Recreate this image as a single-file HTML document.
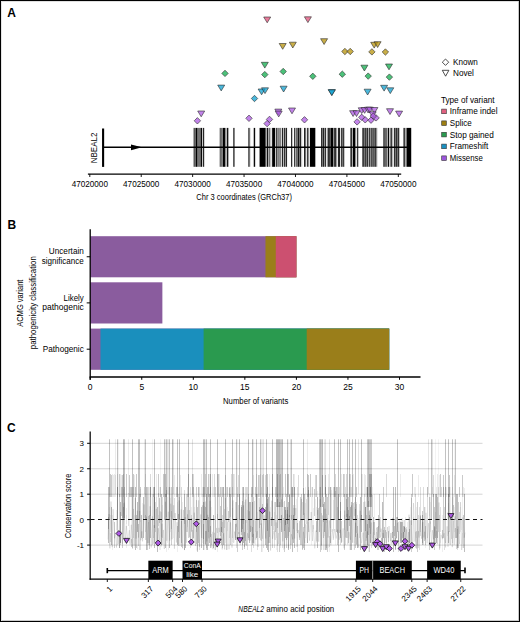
<!DOCTYPE html><html><head><meta charset="utf-8"><style>html,body{margin:0;padding:0;background:#fff;}svg{display:block;}text{font-family:"Liberation Sans", sans-serif;}</style></head><body>
<svg width="520" height="622" viewBox="0 0 520 622">
<rect x="0" y="0" width="520" height="622" fill="#fff"/>
<text x="7.3" y="17.1" font-size="12" text-anchor="start" font-weight="bold" fill="#000">A</text>
<g stroke="#000">
<line x1="103.1" y1="128.5" x2="103.1" y2="166.9" stroke-width="2.1"/>
<line x1="103" y1="147.3" x2="407" y2="147.3" stroke-width="1.6"/>
</g>
<polygon points="131,144.4 142,147.3 131,150.2" fill="#000"/>
<rect x="193" y="127.9" width="1" height="38.9" fill="#000" fill-opacity="0.32"/>
<rect x="194" y="127.9" width="1" height="38.9" fill="#000" fill-opacity="0.65"/>
<rect x="195" y="127.9" width="1" height="38.9" fill="#000" fill-opacity="0.59"/>
<rect x="196" y="127.9" width="1" height="38.9" fill="#000" fill-opacity="1.00"/>
<rect x="197" y="127.9" width="1" height="38.9" fill="#000" fill-opacity="0.59"/>
<rect x="198" y="127.9" width="1" height="38.9" fill="#000" fill-opacity="0.54"/>
<rect x="199" y="127.9" width="1" height="38.9" fill="#000" fill-opacity="0.54"/>
<rect x="200" y="127.9" width="1" height="38.9" fill="#000" fill-opacity="0.59"/>
<rect x="201" y="127.9" width="1" height="38.9" fill="#000" fill-opacity="0.97"/>
<rect x="202" y="127.9" width="1" height="38.9" fill="#000" fill-opacity="0.22"/>
<rect x="203" y="127.9" width="1" height="38.9" fill="#000" fill-opacity="0.86"/>
<rect x="204" y="127.9" width="1" height="38.9" fill="#000" fill-opacity="0.16"/>
<rect x="219" y="127.9" width="1" height="38.9" fill="#000" fill-opacity="0.22"/>
<rect x="220" y="127.9" width="1" height="38.9" fill="#000" fill-opacity="0.59"/>
<rect x="221" y="127.9" width="1" height="38.9" fill="#000" fill-opacity="0.54"/>
<rect x="222" y="127.9" width="1" height="38.9" fill="#000" fill-opacity="0.49"/>
<rect x="223" y="127.9" width="1" height="38.9" fill="#000" fill-opacity="1.00"/>
<rect x="224" y="127.9" width="1" height="38.9" fill="#000" fill-opacity="0.97"/>
<rect x="225" y="127.9" width="1" height="38.9" fill="#000" fill-opacity="0.43"/>
<rect x="226" y="127.9" width="1" height="38.9" fill="#000" fill-opacity="0.27"/>
<rect x="227" y="127.9" width="1" height="38.9" fill="#000" fill-opacity="0.92"/>
<rect x="228" y="127.9" width="1" height="38.9" fill="#000" fill-opacity="0.32"/>
<rect x="233" y="127.9" width="1" height="38.9" fill="#000" fill-opacity="0.65"/>
<rect x="234" y="127.9" width="1" height="38.9" fill="#000" fill-opacity="0.49"/>
<rect x="248" y="127.9" width="1" height="38.9" fill="#000" fill-opacity="0.59"/>
<rect x="249" y="127.9" width="1" height="38.9" fill="#000" fill-opacity="0.54"/>
<rect x="250" y="127.9" width="1" height="38.9" fill="#000" fill-opacity="0.11"/>
<rect x="253" y="127.9" width="1" height="38.9" fill="#000" fill-opacity="0.27"/>
<rect x="254" y="127.9" width="1" height="38.9" fill="#000" fill-opacity="0.97"/>
<rect x="255" y="127.9" width="1" height="38.9" fill="#000" fill-opacity="0.16"/>
<rect x="259" y="127.9" width="1" height="38.9" fill="#000" fill-opacity="0.43"/>
<rect x="260" y="127.9" width="1" height="38.9" fill="#000" fill-opacity="1.00"/>
<rect x="261" y="127.9" width="1" height="38.9" fill="#000" fill-opacity="1.00"/>
<rect x="262" y="127.9" width="1" height="38.9" fill="#000" fill-opacity="1.00"/>
<rect x="263" y="127.9" width="1" height="38.9" fill="#000" fill-opacity="1.00"/>
<rect x="264" y="127.9" width="1" height="38.9" fill="#000" fill-opacity="1.00"/>
<rect x="265" y="127.9" width="1" height="38.9" fill="#000" fill-opacity="0.65"/>
<rect x="266" y="127.9" width="1" height="38.9" fill="#000" fill-opacity="0.32"/>
<rect x="267" y="127.9" width="1" height="38.9" fill="#000" fill-opacity="0.92"/>
<rect x="268" y="127.9" width="1" height="38.9" fill="#000" fill-opacity="0.32"/>
<rect x="269" y="127.9" width="1" height="38.9" fill="#000" fill-opacity="0.54"/>
<rect x="270" y="127.9" width="1" height="38.9" fill="#000" fill-opacity="0.22"/>
<rect x="271" y="127.9" width="1" height="38.9" fill="#000" fill-opacity="0.11"/>
<rect x="272" y="127.9" width="1" height="38.9" fill="#000" fill-opacity="0.86"/>
<rect x="273" y="127.9" width="1" height="38.9" fill="#000" fill-opacity="1.00"/>
<rect x="274" y="127.9" width="1" height="38.9" fill="#000" fill-opacity="1.00"/>
<rect x="275" y="127.9" width="1" height="38.9" fill="#000" fill-opacity="0.22"/>
<rect x="276" y="127.9" width="1" height="38.9" fill="#000" fill-opacity="0.76"/>
<rect x="277" y="127.9" width="1" height="38.9" fill="#000" fill-opacity="0.43"/>
<rect x="278" y="127.9" width="1" height="38.9" fill="#000" fill-opacity="0.49"/>
<rect x="279" y="127.9" width="1" height="38.9" fill="#000" fill-opacity="0.43"/>
<rect x="280" y="127.9" width="1" height="38.9" fill="#000" fill-opacity="0.49"/>
<rect x="281" y="127.9" width="1" height="38.9" fill="#000" fill-opacity="0.16"/>
<rect x="282" y="127.9" width="1" height="38.9" fill="#000" fill-opacity="0.86"/>
<rect x="283" y="127.9" width="1" height="38.9" fill="#000" fill-opacity="0.27"/>
<rect x="284" y="127.9" width="1" height="38.9" fill="#000" fill-opacity="0.81"/>
<rect x="285" y="127.9" width="1" height="38.9" fill="#000" fill-opacity="0.43"/>
<rect x="286" y="127.9" width="1" height="38.9" fill="#000" fill-opacity="0.86"/>
<rect x="287" y="127.9" width="1" height="38.9" fill="#000" fill-opacity="0.05"/>
<rect x="291" y="127.9" width="1" height="38.9" fill="#000" fill-opacity="0.81"/>
<rect x="292" y="127.9" width="1" height="38.9" fill="#000" fill-opacity="0.22"/>
<rect x="294" y="127.9" width="1" height="38.9" fill="#000" fill-opacity="0.76"/>
<rect x="295" y="127.9" width="1" height="38.9" fill="#000" fill-opacity="0.32"/>
<rect x="296" y="127.9" width="1" height="38.9" fill="#000" fill-opacity="0.59"/>
<rect x="297" y="127.9" width="1" height="38.9" fill="#000" fill-opacity="0.54"/>
<rect x="298" y="127.9" width="1" height="38.9" fill="#000" fill-opacity="0.92"/>
<rect x="299" y="127.9" width="1" height="38.9" fill="#000" fill-opacity="0.54"/>
<rect x="300" y="127.9" width="1" height="38.9" fill="#000" fill-opacity="0.86"/>
<rect x="301" y="127.9" width="1" height="38.9" fill="#000" fill-opacity="0.22"/>
<rect x="302" y="127.9" width="1" height="38.9" fill="#000" fill-opacity="0.05"/>
<rect x="304" y="127.9" width="1" height="38.9" fill="#000" fill-opacity="0.86"/>
<rect x="305" y="127.9" width="1" height="38.9" fill="#000" fill-opacity="0.54"/>
<rect x="306" y="127.9" width="1" height="38.9" fill="#000" fill-opacity="0.11"/>
<rect x="307" y="127.9" width="1" height="38.9" fill="#000" fill-opacity="0.76"/>
<rect x="308" y="127.9" width="1" height="38.9" fill="#000" fill-opacity="0.43"/>
<rect x="309" y="127.9" width="1" height="38.9" fill="#000" fill-opacity="0.11"/>
<rect x="310" y="127.9" width="1" height="38.9" fill="#000" fill-opacity="1.00"/>
<rect x="311" y="127.9" width="1" height="38.9" fill="#000" fill-opacity="1.00"/>
<rect x="312" y="127.9" width="1" height="38.9" fill="#000" fill-opacity="1.00"/>
<rect x="313" y="127.9" width="1" height="38.9" fill="#000" fill-opacity="1.00"/>
<rect x="314" y="127.9" width="1" height="38.9" fill="#000" fill-opacity="1.00"/>
<rect x="315" y="127.9" width="1" height="38.9" fill="#000" fill-opacity="0.32"/>
<rect x="321" y="127.9" width="1" height="38.9" fill="#000" fill-opacity="0.81"/>
<rect x="322" y="127.9" width="1" height="38.9" fill="#000" fill-opacity="0.54"/>
<rect x="323" y="127.9" width="1" height="38.9" fill="#000" fill-opacity="0.86"/>
<rect x="324" y="127.9" width="1" height="38.9" fill="#000" fill-opacity="0.43"/>
<rect x="325" y="127.9" width="1" height="38.9" fill="#000" fill-opacity="0.81"/>
<rect x="326" y="127.9" width="1" height="38.9" fill="#000" fill-opacity="0.11"/>
<rect x="327" y="127.9" width="1" height="38.9" fill="#000" fill-opacity="0.38"/>
<rect x="328" y="127.9" width="1" height="38.9" fill="#000" fill-opacity="0.81"/>
<rect x="329" y="127.9" width="1" height="38.9" fill="#000" fill-opacity="0.76"/>
<rect x="330" y="127.9" width="1" height="38.9" fill="#000" fill-opacity="0.65"/>
<rect x="331" y="127.9" width="1" height="38.9" fill="#000" fill-opacity="1.00"/>
<rect x="332" y="127.9" width="1" height="38.9" fill="#000" fill-opacity="1.00"/>
<rect x="333" y="127.9" width="1" height="38.9" fill="#000" fill-opacity="0.43"/>
<rect x="334" y="127.9" width="1" height="38.9" fill="#000" fill-opacity="0.76"/>
<rect x="335" y="127.9" width="1" height="38.9" fill="#000" fill-opacity="0.81"/>
<rect x="336" y="127.9" width="1" height="38.9" fill="#000" fill-opacity="0.38"/>
<rect x="337" y="127.9" width="1" height="38.9" fill="#000" fill-opacity="0.11"/>
<rect x="338" y="127.9" width="1" height="38.9" fill="#000" fill-opacity="0.86"/>
<rect x="339" y="127.9" width="1" height="38.9" fill="#000" fill-opacity="0.86"/>
<rect x="340" y="127.9" width="1" height="38.9" fill="#000" fill-opacity="0.11"/>
<rect x="341" y="127.9" width="1" height="38.9" fill="#000" fill-opacity="0.76"/>
<rect x="342" y="127.9" width="1" height="38.9" fill="#000" fill-opacity="0.54"/>
<rect x="343" y="127.9" width="1" height="38.9" fill="#000" fill-opacity="0.76"/>
<rect x="344" y="127.9" width="1" height="38.9" fill="#000" fill-opacity="0.22"/>
<rect x="350" y="127.9" width="1" height="38.9" fill="#000" fill-opacity="0.54"/>
<rect x="351" y="127.9" width="1" height="38.9" fill="#000" fill-opacity="0.81"/>
<rect x="352" y="127.9" width="1" height="38.9" fill="#000" fill-opacity="0.32"/>
<rect x="353" y="127.9" width="1" height="38.9" fill="#000" fill-opacity="1.00"/>
<rect x="354" y="127.9" width="1" height="38.9" fill="#000" fill-opacity="1.00"/>
<rect x="355" y="127.9" width="1" height="38.9" fill="#000" fill-opacity="0.43"/>
<rect x="356" y="127.9" width="1" height="38.9" fill="#000" fill-opacity="0.11"/>
<rect x="357" y="127.9" width="1" height="38.9" fill="#000" fill-opacity="0.76"/>
<rect x="358" y="127.9" width="1" height="38.9" fill="#000" fill-opacity="0.22"/>
<rect x="362" y="127.9" width="1" height="38.9" fill="#000" fill-opacity="0.59"/>
<rect x="363" y="127.9" width="1" height="38.9" fill="#000" fill-opacity="0.76"/>
<rect x="364" y="127.9" width="1" height="38.9" fill="#000" fill-opacity="0.54"/>
<rect x="365" y="127.9" width="1" height="38.9" fill="#000" fill-opacity="0.76"/>
<rect x="366" y="127.9" width="1" height="38.9" fill="#000" fill-opacity="0.54"/>
<rect x="367" y="127.9" width="1" height="38.9" fill="#000" fill-opacity="0.81"/>
<rect x="368" y="127.9" width="1" height="38.9" fill="#000" fill-opacity="0.32"/>
<rect x="369" y="127.9" width="1" height="38.9" fill="#000" fill-opacity="0.76"/>
<rect x="370" y="127.9" width="1" height="38.9" fill="#000" fill-opacity="0.43"/>
<rect x="371" y="127.9" width="1" height="38.9" fill="#000" fill-opacity="0.70"/>
<rect x="372" y="127.9" width="1" height="38.9" fill="#000" fill-opacity="0.59"/>
<rect x="373" y="127.9" width="1" height="38.9" fill="#000" fill-opacity="0.65"/>
<rect x="374" y="127.9" width="1" height="38.9" fill="#000" fill-opacity="0.59"/>
<rect x="375" y="127.9" width="1" height="38.9" fill="#000" fill-opacity="0.76"/>
<rect x="376" y="127.9" width="1" height="38.9" fill="#000" fill-opacity="0.43"/>
<rect x="377" y="127.9" width="1" height="38.9" fill="#000" fill-opacity="0.11"/>
<rect x="383" y="127.9" width="1" height="38.9" fill="#000" fill-opacity="0.59"/>
<rect x="384" y="127.9" width="1" height="38.9" fill="#000" fill-opacity="0.65"/>
<rect x="385" y="127.9" width="1" height="38.9" fill="#000" fill-opacity="0.59"/>
<rect x="386" y="127.9" width="1" height="38.9" fill="#000" fill-opacity="0.59"/>
<rect x="387" y="127.9" width="1" height="38.9" fill="#000" fill-opacity="0.32"/>
<rect x="388" y="127.9" width="1" height="38.9" fill="#000" fill-opacity="0.97"/>
<rect x="389" y="127.9" width="1" height="38.9" fill="#000" fill-opacity="0.22"/>
<rect x="390" y="127.9" width="1" height="38.9" fill="#000" fill-opacity="0.49"/>
<rect x="391" y="127.9" width="1" height="38.9" fill="#000" fill-opacity="0.76"/>
<rect x="392" y="127.9" width="1" height="38.9" fill="#000" fill-opacity="0.27"/>
<rect x="393" y="127.9" width="1" height="38.9" fill="#000" fill-opacity="0.11"/>
<rect x="394" y="127.9" width="1" height="38.9" fill="#000" fill-opacity="0.81"/>
<rect x="395" y="127.9" width="1" height="38.9" fill="#000" fill-opacity="0.54"/>
<rect x="396" y="127.9" width="1" height="38.9" fill="#000" fill-opacity="0.81"/>
<rect x="397" y="127.9" width="1" height="38.9" fill="#000" fill-opacity="0.54"/>
<rect x="398" y="127.9" width="1" height="38.9" fill="#000" fill-opacity="0.81"/>
<rect x="399" y="127.9" width="1" height="38.9" fill="#000" fill-opacity="0.22"/>
<rect x="403" y="127.9" width="1" height="38.9" fill="#000" fill-opacity="0.49"/>
<rect x="404" y="127.9" width="1" height="38.9" fill="#000" fill-opacity="0.76"/>
<rect x="405" y="127.9" width="1" height="38.9" fill="#000" fill-opacity="0.32"/>
<rect x="406" y="127.9" width="1" height="38.9" fill="#000" fill-opacity="0.54"/>
<rect x="407" y="127.9" width="1" height="38.9" fill="#000" fill-opacity="1.00"/>
<rect x="408" y="127.9" width="1" height="38.9" fill="#000" fill-opacity="1.00"/>
<rect x="409" y="127.9" width="1" height="38.9" fill="#000" fill-opacity="1.00"/>
<rect x="410" y="127.9" width="1" height="38.9" fill="#000" fill-opacity="1.00"/>
<rect x="411" y="127.9" width="1" height="38.9" fill="#000" fill-opacity="0.22"/>
<text x="97.2" y="147.9" font-size="9.2" text-anchor="middle" fill="#000" textLength="30.6" lengthAdjust="spacingAndGlyphs" transform="rotate(-90 97.2 147.9)">NBEAL2</text>
<line x1="87.9" y1="174.1" x2="401.2" y2="174.1" stroke="#000" stroke-width="1.2"/>
<line x1="89.80" y1="174.1" x2="89.80" y2="177" stroke="#000" stroke-width="0.9"/>
<text x="89.8" y="187.4" font-size="8.6" text-anchor="middle" fill="#000" textLength="36.3" lengthAdjust="spacingAndGlyphs">47020000</text>
<line x1="141.22" y1="174.1" x2="141.22" y2="177" stroke="#000" stroke-width="0.9"/>
<text x="141.22" y="187.4" font-size="8.6" text-anchor="middle" fill="#000" textLength="36.3" lengthAdjust="spacingAndGlyphs">47025000</text>
<line x1="192.64" y1="174.1" x2="192.64" y2="177" stroke="#000" stroke-width="0.9"/>
<text x="192.64" y="187.4" font-size="8.6" text-anchor="middle" fill="#000" textLength="36.3" lengthAdjust="spacingAndGlyphs">47030000</text>
<line x1="244.06" y1="174.1" x2="244.06" y2="177" stroke="#000" stroke-width="0.9"/>
<text x="244.06" y="187.4" font-size="8.6" text-anchor="middle" fill="#000" textLength="36.3" lengthAdjust="spacingAndGlyphs">47035000</text>
<line x1="295.48" y1="174.1" x2="295.48" y2="177" stroke="#000" stroke-width="0.9"/>
<text x="295.48" y="187.4" font-size="8.6" text-anchor="middle" fill="#000" textLength="36.3" lengthAdjust="spacingAndGlyphs">47040000</text>
<line x1="346.90" y1="174.1" x2="346.90" y2="177" stroke="#000" stroke-width="0.9"/>
<text x="346.9" y="187.4" font-size="8.6" text-anchor="middle" fill="#000" textLength="36.3" lengthAdjust="spacingAndGlyphs">47045000</text>
<line x1="398.32" y1="174.1" x2="398.32" y2="177" stroke="#000" stroke-width="0.9"/>
<text x="398.32" y="187.4" font-size="8.6" text-anchor="middle" fill="#000" textLength="36.3" lengthAdjust="spacingAndGlyphs">47050000</text>
<text x="244.15" y="200.4" font-size="9" text-anchor="middle" fill="#000" textLength="95.7" lengthAdjust="spacingAndGlyphs">Chr 3 coordinates (GRCh37)</text>
<polygon points="263.70,17.00 270.70,17.00 267.20,22.80" fill="#e0507b" fill-opacity="0.75" stroke="#2a2a2a" stroke-width="0.6" stroke-linejoin="miter"/>
<polygon points="304.40,16.80 311.40,16.80 307.90,22.60" fill="#e0507b" fill-opacity="0.75" stroke="#2a2a2a" stroke-width="0.6" stroke-linejoin="miter"/>
<polygon points="279.20,43.50 286.20,43.50 282.70,49.30" fill="#b7930b" fill-opacity="0.75" stroke="#2a2a2a" stroke-width="0.6" stroke-linejoin="miter"/>
<polygon points="289.30,42.20 296.30,42.20 292.80,48.00" fill="#b7930b" fill-opacity="0.75" stroke="#2a2a2a" stroke-width="0.6" stroke-linejoin="miter"/>
<polygon points="320.60,38.70 327.60,38.70 324.10,44.50" fill="#b7930b" fill-opacity="0.75" stroke="#2a2a2a" stroke-width="0.6" stroke-linejoin="miter"/>
<polygon points="370.70,42.30 377.70,42.30 374.20,48.10" fill="#b7930b" fill-opacity="0.75" stroke="#2a2a2a" stroke-width="0.6" stroke-linejoin="miter"/>
<polygon points="374.10,41.70 381.10,41.70 377.60,47.50" fill="#b7930b" fill-opacity="0.75" stroke="#2a2a2a" stroke-width="0.6" stroke-linejoin="miter"/>
<polygon points="344.90,48.30 348.10,51.50 344.90,54.70 341.70,51.50" fill="#b7930b" fill-opacity="0.75" stroke="#2a2a2a" stroke-width="0.6"/>
<polygon points="350.20,48.30 353.40,51.50 350.20,54.70 347.00,51.50" fill="#b7930b" fill-opacity="0.75" stroke="#2a2a2a" stroke-width="0.6"/>
<polygon points="371.90,48.70 375.10,51.90 371.90,55.10 368.70,51.90" fill="#b7930b" fill-opacity="0.75" stroke="#2a2a2a" stroke-width="0.6"/>
<polygon points="385.40,48.80 388.60,52.00 385.40,55.20 382.20,52.00" fill="#b7930b" fill-opacity="0.75" stroke="#2a2a2a" stroke-width="0.6"/>
<polygon points="225.00,70.20 228.20,73.40 225.00,76.60 221.80,73.40" fill="#10ae4e" fill-opacity="0.75" stroke="#2a2a2a" stroke-width="0.6"/>
<polygon points="261.30,62.30 268.30,62.30 264.80,68.10" fill="#10ae4e" fill-opacity="0.75" stroke="#2a2a2a" stroke-width="0.6" stroke-linejoin="miter"/>
<polygon points="264.80,71.40 268.00,74.60 264.80,77.80 261.60,74.60" fill="#10ae4e" fill-opacity="0.75" stroke="#2a2a2a" stroke-width="0.6"/>
<polygon points="283.20,68.30 286.40,71.50 283.20,74.70 280.00,71.50" fill="#10ae4e" fill-opacity="0.75" stroke="#2a2a2a" stroke-width="0.6"/>
<polygon points="312.80,73.10 316.00,76.30 312.80,79.50 309.60,76.30" fill="#10ae4e" fill-opacity="0.75" stroke="#2a2a2a" stroke-width="0.6"/>
<polygon points="342.30,71.00 345.50,74.20 342.30,77.40 339.10,74.20" fill="#10ae4e" fill-opacity="0.75" stroke="#2a2a2a" stroke-width="0.6"/>
<polygon points="360.90,65.20 367.90,65.20 364.40,71.00" fill="#10ae4e" fill-opacity="0.75" stroke="#2a2a2a" stroke-width="0.6" stroke-linejoin="miter"/>
<polygon points="368.20,72.90 371.40,76.10 368.20,79.30 365.00,76.10" fill="#10ae4e" fill-opacity="0.75" stroke="#2a2a2a" stroke-width="0.6"/>
<polygon points="385.50,64.00 392.50,64.00 389.00,69.80" fill="#10ae4e" fill-opacity="0.75" stroke="#2a2a2a" stroke-width="0.6" stroke-linejoin="miter"/>
<polygon points="389.40,73.90 392.60,77.10 389.40,80.30 386.20,77.10" fill="#10ae4e" fill-opacity="0.75" stroke="#2a2a2a" stroke-width="0.6"/>
<polygon points="217.70,85.10 224.70,85.10 221.20,90.90" fill="#0fa0d0" fill-opacity="0.75" stroke="#2a2a2a" stroke-width="0.6" stroke-linejoin="miter"/>
<polygon points="254.50,95.30 257.70,98.50 254.50,101.70 251.30,98.50" fill="#0fa0d0" fill-opacity="0.75" stroke="#2a2a2a" stroke-width="0.6"/>
<polygon points="258.10,89.00 265.10,89.00 261.60,94.80" fill="#0fa0d0" fill-opacity="0.75" stroke="#2a2a2a" stroke-width="0.6" stroke-linejoin="miter"/>
<polygon points="261.50,87.80 268.50,87.80 265.00,93.60" fill="#0fa0d0" fill-opacity="0.75" stroke="#2a2a2a" stroke-width="0.6" stroke-linejoin="miter"/>
<polygon points="280.10,86.20 287.10,86.20 283.60,92.00" fill="#0fa0d0" fill-opacity="0.75" stroke="#2a2a2a" stroke-width="0.6" stroke-linejoin="miter"/>
<polygon points="328.30,89.60 335.30,89.60 331.80,95.40" fill="#0fa0d0" fill-opacity="0.75" stroke="#2a2a2a" stroke-width="0.6" stroke-linejoin="miter"/>
<polygon points="328.30,89.80 335.30,89.80 331.80,95.60" fill="#0fa0d0" fill-opacity="0.75" stroke="#2a2a2a" stroke-width="0.6" stroke-linejoin="miter"/>
<polygon points="364.10,89.20 371.10,89.20 367.60,95.00" fill="#0fa0d0" fill-opacity="0.75" stroke="#2a2a2a" stroke-width="0.6" stroke-linejoin="miter"/>
<polygon points="380.60,85.30 387.60,85.30 384.10,91.10" fill="#0fa0d0" fill-opacity="0.75" stroke="#2a2a2a" stroke-width="0.6" stroke-linejoin="miter"/>
<polygon points="386.80,87.80 393.80,87.80 390.30,93.60" fill="#0fa0d0" fill-opacity="0.75" stroke="#2a2a2a" stroke-width="0.6" stroke-linejoin="miter"/>
<polygon points="197.70,111.00 204.70,111.00 201.20,116.80" fill="#ae5ae3" fill-opacity="0.75" stroke="#2a2a2a" stroke-width="0.6" stroke-linejoin="miter"/>
<polygon points="197.40,117.60 200.60,120.80 197.40,124.00 194.20,120.80" fill="#ae5ae3" fill-opacity="0.75" stroke="#2a2a2a" stroke-width="0.6"/>
<polygon points="249.00,115.10 252.20,118.30 249.00,121.50 245.80,118.30" fill="#ae5ae3" fill-opacity="0.75" stroke="#2a2a2a" stroke-width="0.6"/>
<polygon points="274.80,109.10 281.80,109.10 278.30,114.90" fill="#ae5ae3" fill-opacity="0.75" stroke="#2a2a2a" stroke-width="0.6" stroke-linejoin="miter"/>
<polygon points="275.20,111.10 282.20,111.10 278.70,116.90" fill="#ae5ae3" fill-opacity="0.75" stroke="#2a2a2a" stroke-width="0.6" stroke-linejoin="miter"/>
<polygon points="288.50,108.00 295.50,108.00 292.00,113.80" fill="#ae5ae3" fill-opacity="0.75" stroke="#2a2a2a" stroke-width="0.6" stroke-linejoin="miter"/>
<polygon points="269.50,116.20 272.70,119.40 269.50,122.60 266.30,119.40" fill="#ae5ae3" fill-opacity="0.75" stroke="#2a2a2a" stroke-width="0.6"/>
<polygon points="267.10,120.40 270.30,123.60 267.10,126.80 263.90,123.60" fill="#ae5ae3" fill-opacity="0.75" stroke="#2a2a2a" stroke-width="0.6"/>
<polygon points="304.50,116.60 307.70,119.80 304.50,123.00 301.30,119.80" fill="#ae5ae3" fill-opacity="0.75" stroke="#2a2a2a" stroke-width="0.6"/>
<polygon points="349.60,110.70 356.60,110.70 353.10,116.50" fill="#ae5ae3" fill-opacity="0.75" stroke="#2a2a2a" stroke-width="0.6" stroke-linejoin="miter"/>
<polygon points="353.00,110.70 360.00,110.70 356.50,116.50" fill="#ae5ae3" fill-opacity="0.75" stroke="#2a2a2a" stroke-width="0.6" stroke-linejoin="miter"/>
<polygon points="358.20,107.80 365.20,107.80 361.70,113.60" fill="#ae5ae3" fill-opacity="0.75" stroke="#2a2a2a" stroke-width="0.6" stroke-linejoin="miter"/>
<polygon points="361.10,107.50 368.10,107.50 364.60,113.30" fill="#ae5ae3" fill-opacity="0.75" stroke="#2a2a2a" stroke-width="0.6" stroke-linejoin="miter"/>
<polygon points="364.60,107.20 371.60,107.20 368.10,113.00" fill="#ae5ae3" fill-opacity="0.75" stroke="#2a2a2a" stroke-width="0.6" stroke-linejoin="miter"/>
<polygon points="366.30,107.20 373.30,107.20 369.80,113.00" fill="#ae5ae3" fill-opacity="0.75" stroke="#2a2a2a" stroke-width="0.6" stroke-linejoin="miter"/>
<polygon points="370.90,107.50 377.90,107.50 374.40,113.30" fill="#ae5ae3" fill-opacity="0.75" stroke="#2a2a2a" stroke-width="0.6" stroke-linejoin="miter"/>
<polygon points="369.20,111.80 376.20,111.80 372.70,117.60" fill="#ae5ae3" fill-opacity="0.75" stroke="#2a2a2a" stroke-width="0.6" stroke-linejoin="miter"/>
<polygon points="386.50,108.70 393.50,108.70 390.00,114.50" fill="#ae5ae3" fill-opacity="0.75" stroke="#2a2a2a" stroke-width="0.6" stroke-linejoin="miter"/>
<polygon points="395.60,111.10 402.60,111.10 399.10,116.90" fill="#ae5ae3" fill-opacity="0.75" stroke="#2a2a2a" stroke-width="0.6" stroke-linejoin="miter"/>
<polygon points="357.10,118.70 360.30,121.90 357.10,125.10 353.90,121.90" fill="#ae5ae3" fill-opacity="0.75" stroke="#2a2a2a" stroke-width="0.6"/>
<polygon points="361.70,114.10 364.90,117.30 361.70,120.50 358.50,117.30" fill="#ae5ae3" fill-opacity="0.75" stroke="#2a2a2a" stroke-width="0.6"/>
<polygon points="365.20,116.60 368.40,119.80 365.20,123.00 362.00,119.80" fill="#ae5ae3" fill-opacity="0.75" stroke="#2a2a2a" stroke-width="0.6"/>
<polygon points="371.00,117.00 374.20,120.20 371.00,123.40 367.80,120.20" fill="#ae5ae3" fill-opacity="0.75" stroke="#2a2a2a" stroke-width="0.6"/>
<polygon points="376.10,114.70 379.30,117.90 376.10,121.10 372.90,117.90" fill="#ae5ae3" fill-opacity="0.75" stroke="#2a2a2a" stroke-width="0.6"/>
<polygon points="373.30,112.90 376.50,116.10 373.30,119.30 370.10,116.10" fill="#ae5ae3" fill-opacity="0.75" stroke="#2a2a2a" stroke-width="0.6"/>
<polygon points="445.5,59 448.7,62.2 445.5,65.4 442.3,62.2" fill="none" stroke="#222" stroke-width="0.8"/>
<polygon points="442.3,70.3 448.9,70.3 445.6,76.2" fill="none" stroke="#222" stroke-width="0.8"/>
<text x="453" y="64.8" font-size="8.2" text-anchor="start" fill="#000" textLength="24.8" lengthAdjust="spacingAndGlyphs">Known</text>
<text x="453" y="75.9" font-size="8.2" text-anchor="start" fill="#000" textLength="20.9" lengthAdjust="spacingAndGlyphs">Novel</text>
<text x="440.9" y="103" font-size="8.2" text-anchor="start" fill="#000" textLength="53.6" lengthAdjust="spacingAndGlyphs">Type of variant</text>
<rect x="441.7" y="109.1" width="4.6" height="4.6" fill="#e0607f" stroke="#333" stroke-width="0.6"/>
<text x="449.8" y="114.2" font-size="8.2" text-anchor="start" fill="#000" textLength="47.7" lengthAdjust="spacingAndGlyphs">Inframe indel</text>
<rect x="441.7" y="120.9" width="4.6" height="4.6" fill="#9c7e12" stroke="#333" stroke-width="0.6"/>
<text x="449.8" y="125.9" font-size="8.2" text-anchor="start" fill="#000" textLength="21.9" lengthAdjust="spacingAndGlyphs">Splice</text>
<rect x="441.7" y="132.3" width="4.6" height="4.6" fill="#2a9a4f" stroke="#333" stroke-width="0.6"/>
<text x="449.8" y="137.6" font-size="8.2" text-anchor="start" fill="#000" textLength="44.0" lengthAdjust="spacingAndGlyphs">Stop gained</text>
<rect x="441.7" y="144.1" width="4.6" height="4.6" fill="#1a90c0" stroke="#333" stroke-width="0.6"/>
<text x="449.8" y="148.9" font-size="8.2" text-anchor="start" fill="#000" textLength="38.5" lengthAdjust="spacingAndGlyphs">Frameshift</text>
<rect x="441.7" y="155.9" width="4.6" height="4.6" fill="#9b55dc" stroke="#333" stroke-width="0.6"/>
<text x="449.8" y="160.6" font-size="8.2" text-anchor="start" fill="#000" textLength="33.0" lengthAdjust="spacingAndGlyphs">Missense</text>
<text x="7.5" y="228.8" font-size="12" text-anchor="start" font-weight="bold" fill="#000">B</text>
<rect x="90.20" y="236.2" width="206.20" height="41.1" fill="#8a5c9e"/>
<rect x="265.47" y="236.2" width="30.93" height="41.1" fill="#9a7e1a"/>
<rect x="275.78" y="236.2" width="20.62" height="41.1" fill="#cc5070"/>
<rect x="90.20" y="282.3" width="72.17" height="41.2" fill="#8a5c9e"/>
<rect x="90.20" y="328.6" width="298.99" height="41.2" fill="#8a5c9e"/>
<rect x="100.51" y="328.6" width="288.68" height="41.2" fill="#1a8fbd"/>
<rect x="203.61" y="328.6" width="185.58" height="41.2" fill="#2a9a4f"/>
<rect x="306.71" y="328.6" width="82.48" height="41.2" fill="#9a7e1a"/>
<line x1="90.2" y1="229.2" x2="90.2" y2="379.8" stroke="#000" stroke-width="1.3"/>
<line x1="89.6" y1="377" x2="420.5" y2="377" stroke="#000" stroke-width="1.3"/>
<line x1="90.20" y1="377" x2="90.20" y2="379.8" stroke="#000" stroke-width="1"/>
<text x="90.2" y="390.0" font-size="8.5" text-anchor="middle" fill="#000">0</text>
<line x1="141.75" y1="377" x2="141.75" y2="379.8" stroke="#000" stroke-width="1"/>
<text x="141.75" y="390.0" font-size="8.5" text-anchor="middle" fill="#000">5</text>
<line x1="193.30" y1="377" x2="193.30" y2="379.8" stroke="#000" stroke-width="1"/>
<text x="193.3" y="390.0" font-size="8.5" text-anchor="middle" fill="#000">10</text>
<line x1="244.85" y1="377" x2="244.85" y2="379.8" stroke="#000" stroke-width="1"/>
<text x="244.85" y="390.0" font-size="8.5" text-anchor="middle" fill="#000">15</text>
<line x1="296.40" y1="377" x2="296.40" y2="379.8" stroke="#000" stroke-width="1"/>
<text x="296.4" y="390.0" font-size="8.5" text-anchor="middle" fill="#000">20</text>
<line x1="347.95" y1="377" x2="347.95" y2="379.8" stroke="#000" stroke-width="1"/>
<text x="347.95" y="390.0" font-size="8.5" text-anchor="middle" fill="#000">25</text>
<line x1="399.50" y1="377" x2="399.50" y2="379.8" stroke="#000" stroke-width="1"/>
<text x="399.5" y="390.0" font-size="8.5" text-anchor="middle" fill="#000">30</text>
<line x1="86.7" y1="256.75" x2="90.2" y2="256.75" stroke="#000" stroke-width="1"/>
<line x1="86.7" y1="302.9" x2="90.2" y2="302.9" stroke="#000" stroke-width="1"/>
<line x1="86.7" y1="349.2" x2="90.2" y2="349.2" stroke="#000" stroke-width="1"/>
<text x="83.8" y="254.3" font-size="8.3" text-anchor="end" fill="#000" textLength="35" lengthAdjust="spacingAndGlyphs">Uncertain</text>
<text x="83.8" y="264.0" font-size="8.3" text-anchor="end" fill="#000" textLength="42.1" lengthAdjust="spacingAndGlyphs">significance</text>
<text x="83.8" y="300.6" font-size="8.3" text-anchor="end" fill="#000" textLength="20.2" lengthAdjust="spacingAndGlyphs">Likely</text>
<text x="83.8" y="310.3" font-size="8.3" text-anchor="end" fill="#000" textLength="41.6" lengthAdjust="spacingAndGlyphs">pathogenic</text>
<text x="83.8" y="351.6" font-size="8.3" text-anchor="end" fill="#000" textLength="41" lengthAdjust="spacingAndGlyphs">Pathogenic</text>
<text x="255.7" y="403.7" font-size="9.2" text-anchor="middle" fill="#000" textLength="65.4" lengthAdjust="spacingAndGlyphs">Number of variants</text>
<text x="23.0" y="303.2" font-size="9.2" text-anchor="middle" fill="#000" textLength="47.3" lengthAdjust="spacingAndGlyphs" transform="rotate(-90 23.0 303.2)">ACMG variant</text>
<text x="35.6" y="302.7" font-size="8.6" text-anchor="middle" fill="#000" textLength="93" lengthAdjust="spacingAndGlyphs" transform="rotate(-90 35.6 302.7)">pathogenicity classification</text>
<text x="7.0" y="432.0" font-size="12" text-anchor="start" font-weight="bold" fill="#000">C</text>
<line x1="91" y1="443.30" x2="482.5" y2="443.30" stroke="#d4d4d4" stroke-width="1"/>
<line x1="91" y1="468.75" x2="482.5" y2="468.75" stroke="#d4d4d4" stroke-width="1"/>
<line x1="91" y1="494.20" x2="482.5" y2="494.20" stroke="#d4d4d4" stroke-width="1"/>
<line x1="91" y1="545.10" x2="482.5" y2="545.10" stroke="#d4d4d4" stroke-width="1"/>
<clipPath id="cp"><rect x="91" y="439.3" width="392" height="140"/></clipPath>
<g clip-path="url(#cp)" shape-rendering="crispEdges">
<path d="M108.5 486.6V542.6M111.5 506.9V545.1M120.5 501.8V542.6M135.5 487.1V550.2M137.5 501.8V532.4M141.5 514.6V537.5M143.5 496.7V537.5M146.5 486.6V550.2M150.5 486.6V537.5M154.5 486.6V547.6M157.5 506.9V551.5M161.5 494.2V545.1M165.5 494.2V547.6M169.5 486.6V547.6M185.5 506.9V547.6M201.5 506.9V547.6M203.5 501.8V550.2M207.5 487.1V550.2M209.5 494.2V542.6M213.5 514.6V547.6M221.5 496.7V532.4M223.5 486.6V545.1M239.5 494.2V537.5M241.5 506.9V532.4M243.5 486.6V542.6M249.5 501.8V542.6M250.5 501.8V532.4M252.5 501.8V545.1M256.5 494.2V537.5M265.5 506.9V545.1M266.5 494.2V547.6M267.5 486.6V550.2M268.5 496.7V551.5M281.5 514.6V532.4M285.5 506.9V537.5M288.5 501.8V550.2M289.5 494.2V532.4M292.5 486.6V551.5M293.5 514.6V542.6M294.5 486.6V547.6M304.5 494.2V550.2M317.5 496.7V547.6M319.5 506.9V532.4M324.5 501.8V532.4M325.5 486.6V550.2M330.5 486.6V542.6M336.5 487.1V532.4M338.5 494.2V551.5M340.5 501.8V537.5M350.5 506.9V550.2M351.5 501.8V550.2M360.5 496.7V550.2M361.5 514.6V532.4M367.5 486.6V547.6M370.5 487.1V542.6M373.5 517.1V545.1M375.5 537.5V547.6M382.5 501.8V547.6M392.5 532.4V537.5M393.5 486.6V551.5M395.5 486.6V550.2M397.5 517.1V532.4M400.5 522.2V542.6M401.5 522.2V542.6M403.5 532.4V545.1M404.5 527.3V532.4M422.5 514.6V545.1M433.5 494.2V542.6M435.5 494.2V537.5M436.5 494.2V542.6M437.5 496.7V537.5M448.5 494.2V542.6M456.5 494.2V537.5M457.5 494.2V547.6M464.5 494.2V551.5" stroke="#000" stroke-opacity="0.256" stroke-width="1" fill="none"/>
<path d="M108.5 516.5V529.3M114.5 522.3V547.6M117.5 486.6V519.4M119.5 534.1V547.5M120.5 511.6V544.7M121.5 486.6V516.3M122.5 496.6V518.0M124.5 486.6V518.4M131.5 538.8V547.1M138.5 523.7V546.3M149.5 515.3V548.6M154.5 496.9V527.6M159.5 498.2V523.0M177.5 525.9V545.2M178.5 513.5V546.1M181.5 520.5V547.1M196.5 519.0V544.4M198.5 525.5V543.1M203.5 523.8V538.7M205.5 530.5V543.5M208.5 516.9V546.2M210.5 526.1V536.6M220.5 506.3V535.8M221.5 526.6V545.1M228.5 510.9V522.0M235.5 524.4V539.7M241.5 505.2V534.5M242.5 501.3V528.9M244.5 532.2V548.7M245.5 519.8V541.3M252.5 526.9V536.5M262.5 504.0V520.0M267.5 499.3V530.7M271.5 517.2V526.0M277.5 499.1V528.2M284.5 501.1V531.4M285.5 510.4V525.1M287.5 510.2V523.8M289.5 495.1V516.7M297.5 523.3V532.5M299.5 520.6V539.9M303.5 487.7V514.7M308.5 489.5V521.0M314.5 488.9V516.0M316.5 521.0V532.1M318.5 507.9V519.9M323.5 503.6V522.0M339.5 518.7V532.8M341.5 520.5V543.1M346.5 499.0V516.8M347.5 506.9V530.6M348.5 509.8V519.1M349.5 515.9V526.0M355.5 509.1V537.0M357.5 525.9V547.8M365.5 507.4V530.9M367.5 524.2V544.9M368.5 500.5V535.1M385.5 529.6V537.6M388.5 530.9V541.7M394.5 526.2V535.7M403.5 525.9V539.8M404.5 525.7V537.6M409.5 529.3V543.0M422.5 511.4V543.4M424.5 506.6V541.4M425.5 526.4V544.9M434.5 526.0V541.7M442.5 530.3V538.2M453.5 505.4V516.9M455.5 527.5V537.8" stroke="#000" stroke-opacity="0.192" stroke-width="1" fill="none"/>
<path d="M109.5 506.9V545.1M110.5 514.6V532.4M112.5 514.6V550.2M124.5 501.8V542.6M126.5 514.6V547.6M129.5 487.1V542.6M131.5 486.6V542.6M134.5 514.6V547.6M149.5 487.1V542.6M158.5 514.6V545.1M159.5 486.6V550.2M160.5 494.2V550.2M166.5 494.2V551.5M167.5 496.7V542.6M168.5 487.1V550.2M170.5 486.6V532.4M173.5 487.1V537.5M177.5 501.8V551.5M182.5 501.8V547.6M189.5 496.7V537.5M192.5 486.6V542.6M194.5 506.9V542.6M198.5 486.6V545.1M202.5 494.2V542.6M204.5 501.8V550.2M211.5 506.9V532.4M214.5 486.6V550.2M217.5 496.7V551.5M218.5 486.6V537.5M224.5 494.2V545.1M225.5 496.7V542.6M244.5 501.8V537.5M246.5 496.7V545.1M255.5 486.6V545.1M262.5 494.2V551.5M270.5 506.9V542.6M276.5 506.9V550.2M280.5 501.8V547.6M283.5 501.8V550.2M305.5 486.6V537.5M309.5 494.2V532.4M311.5 486.6V545.1M312.5 486.6V532.4M316.5 506.9V542.6M328.5 494.2V547.6M329.5 486.6V551.5M331.5 487.1V532.4M333.5 496.7V537.5M335.5 486.6V545.1M349.5 486.6V550.2M352.5 501.8V542.6M354.5 506.9V542.6M368.5 496.7V551.5M372.5 486.6V537.5M374.5 494.2V545.1M385.5 537.5V542.6M388.5 537.5V545.1M405.5 517.1V542.6M407.5 522.2V545.1M410.5 506.9V550.2M416.5 506.9V537.5M425.5 506.9V547.6M430.5 501.8V532.4M442.5 514.6V551.5M450.5 514.6V545.1M453.5 494.2V537.5M454.5 506.9V532.4M460.5 506.9V532.4M462.5 496.7V547.6" stroke="#000" stroke-opacity="0.064" stroke-width="1" fill="none"/>
<path d="M109.5 487.1V496.7M123.5 473.8V496.7M132.5 486.6V496.7M150.5 473.8V496.7M166.5 487.1V496.7M181.5 486.6V496.7M187.5 487.1V496.7M193.5 473.8V496.7M204.5 487.1V496.7M205.5 473.8V496.7M214.5 473.8V496.7M217.5 473.8V496.7M221.5 487.1V496.7M225.5 475.1V496.7M231.5 473.8V496.7M233.5 473.8V496.7M237.5 487.1V496.7M238.5 475.1V496.7M246.5 487.1V496.7M252.5 487.1V496.7M255.5 486.6V496.7M259.5 475.1V496.7M262.5 475.1V496.7M263.5 473.8V496.7M265.5 475.1V496.7M280.5 473.8V496.7M287.5 473.8V496.7M291.5 486.6V496.7M292.5 487.1V496.7M293.5 473.8V496.7M298.5 475.1V496.7M312.5 486.6V496.7M315.5 475.1V496.7M333.5 486.6V496.7M335.5 473.8V496.7M339.5 487.1V496.7M344.5 473.8V496.7M346.5 473.8V496.7M349.5 473.8V496.7M350.5 473.8V496.7M351.5 487.1V496.7M386.5 473.8V496.7M427.5 487.1V496.7M433.5 475.1V496.7M441.5 487.1V496.7M448.5 487.1V496.7" stroke="#000" stroke-opacity="0.144" stroke-width="1" fill="none"/>
<path d="M110.5 533.1V541.6M128.5 492.9V525.8M144.5 486.6V517.8M148.5 522.3V545.2M150.5 486.6V516.1M158.5 492.7V525.9M166.5 490.2V516.5M171.5 511.0V528.9M174.5 498.3V517.9M184.5 490.2V523.6M189.5 519.4V537.2M192.5 529.9V540.4M206.5 531.3V547.5M211.5 533.5V544.6M217.5 513.8V533.2M222.5 522.0V532.5M224.5 508.5V528.2M229.5 487.8V518.3M230.5 486.6V516.9M238.5 505.1V533.7M253.5 520.1V548.2M254.5 501.4V519.7M259.5 517.5V527.7M260.5 511.3V525.1M261.5 509.5V541.0M269.5 510.8V537.1M273.5 518.8V530.1M278.5 533.3V544.0M293.5 504.8V529.0M294.5 487.0V515.7M306.5 499.2V523.7M321.5 512.9V546.2M328.5 486.6V515.1M329.5 535.7V547.2M335.5 490.5V519.7M337.5 507.4V532.7M340.5 510.5V544.8M354.5 502.4V516.0M356.5 503.5V533.1M359.5 504.4V537.5M366.5 514.9V538.4M369.5 510.2V528.1M370.5 516.8V533.8M372.5 495.3V517.3M374.5 521.7V535.4M378.5 525.9V538.7M383.5 530.0V537.9M386.5 531.8V542.5M395.5 538.3V548.9M398.5 531.3V542.4M405.5 528.4V540.1M406.5 527.0V541.5M411.5 497.9V525.1M416.5 531.1V548.6M420.5 514.5V536.3M451.5 520.1V538.9M457.5 528.8V549.8M459.5 512.2V534.0" stroke="#000" stroke-opacity="0.128" stroke-width="1" fill="none"/>
<path d="M110.5 473.8V496.7M111.5 475.1V496.7M119.5 473.8V496.7M122.5 475.1V496.7M126.5 473.8V496.7M129.5 475.1V496.7M130.5 487.1V496.7M131.5 486.6V496.7M133.5 473.8V496.7M136.5 473.8V496.7M140.5 486.6V496.7M153.5 487.1V496.7M158.5 473.8V496.7M160.5 486.6V496.7M163.5 473.8V496.7M165.5 473.8V496.7M176.5 486.6V496.7M177.5 486.6V496.7M188.5 473.8V496.7M192.5 473.8V496.7M198.5 486.6V496.7M203.5 487.1V496.7M208.5 473.8V496.7M210.5 473.8V496.7M218.5 473.8V496.7M220.5 486.6V496.7M222.5 487.1V496.7M227.5 486.6V496.7M229.5 487.1V496.7M251.5 486.6V496.7M258.5 475.1V496.7M267.5 473.8V496.7M272.5 473.8V496.7M275.5 486.6V496.7M277.5 473.8V496.7M285.5 473.8V496.7M288.5 473.8V496.7M307.5 473.8V496.7M308.5 475.1V496.7M310.5 473.8V496.7M316.5 475.1V496.7M322.5 475.1V496.7M325.5 475.1V496.7M334.5 486.6V496.7M343.5 473.8V496.7M356.5 487.1V496.7M367.5 486.6V496.7M369.5 473.8V496.7M370.5 473.8V496.7M371.5 473.8V496.7M412.5 473.8V496.7M440.5 473.8V496.7M443.5 475.1V496.7M449.5 475.1V496.7M459.5 486.6V496.7M462.5 475.1V496.7" stroke="#000" stroke-opacity="0.208" stroke-width="1" fill="none"/>
<path d="M112.5 473.8V496.7M113.5 475.1V496.7M114.5 473.8V496.7M115.5 475.1V496.7M117.5 473.8V496.7M120.5 473.8V496.7M121.5 475.1V496.7M134.5 475.1V496.7M145.5 473.8V496.7M154.5 487.1V496.7M156.5 473.8V496.7M164.5 473.8V496.7M174.5 475.1V496.7M179.5 487.1V496.7M180.5 475.1V496.7M196.5 486.6V496.7M201.5 473.8V496.7M202.5 486.6V496.7M209.5 473.8V496.7M212.5 473.8V496.7M213.5 487.1V496.7M219.5 473.8V496.7M223.5 487.1V496.7M234.5 473.8V496.7M243.5 487.1V496.7M253.5 475.1V496.7M256.5 473.8V496.7M257.5 486.6V496.7M260.5 473.8V496.7M266.5 473.8V496.7M269.5 473.8V496.7M276.5 487.1V496.7M279.5 475.1V496.7M283.5 487.1V496.7M294.5 473.8V496.7M319.5 486.6V496.7M328.5 473.8V496.7M330.5 486.6V496.7M341.5 473.8V496.7M352.5 475.1V496.7M353.5 473.8V496.7M361.5 473.8V496.7M362.5 473.8V496.7M364.5 473.8V496.7M365.5 475.1V496.7M400.5 473.8V496.7M414.5 487.1V496.7M415.5 486.6V496.7M418.5 475.1V496.7M432.5 487.1V496.7M436.5 486.6V496.7M437.5 473.8V496.7M439.5 475.1V496.7M446.5 486.6V496.7M452.5 486.6V496.7M454.5 475.1V496.7M463.5 486.6V496.7" stroke="#000" stroke-opacity="0.080" stroke-width="1" fill="none"/>
<path d="M115.5 428.0V494.2M128.5 428.0V494.2M144.5 428.0V494.2M165.5 428.0V494.2M168.5 428.0V494.2M205.5 428.0V494.2M253.5 428.0V494.2M261.5 428.0V494.2M262.5 428.0V494.2M307.5 428.0V494.2M324.5 428.0V494.2" stroke="#000" stroke-opacity="0.080" stroke-width="1" fill="none"/>
<path d="M116.5 510.1V530.3M123.5 489.0V517.6M126.5 507.6V524.2M137.5 518.4V549.3M140.5 489.0V522.0M142.5 503.4V538.6M161.5 511.5V536.9M162.5 505.3V522.0M170.5 498.3V516.7M187.5 510.0V526.8M191.5 507.3V530.8M194.5 494.5V520.8M204.5 505.7V517.5M215.5 516.0V537.6M227.5 507.3V530.7M232.5 507.6V541.8M236.5 517.2V527.4M237.5 517.7V529.9M243.5 492.8V524.4M246.5 498.8V523.3M247.5 509.5V530.4M248.5 500.4V519.7M251.5 518.4V530.6M255.5 520.7V531.9M257.5 512.2V537.0M274.5 512.2V526.3M276.5 514.8V537.5M280.5 496.7V523.1M281.5 507.0V530.2M288.5 526.9V535.9M295.5 505.3V514.8M296.5 499.2V531.1M304.5 512.9V528.4M305.5 503.4V519.1M313.5 507.8V529.4M315.5 498.9V518.7M317.5 490.8V514.9M324.5 522.1V535.9M326.5 513.8V523.0M330.5 494.7V527.9M331.5 490.2V518.2M333.5 500.0V531.1M338.5 509.5V542.6M344.5 515.2V530.2M350.5 486.6V516.7M358.5 518.4V547.4M361.5 496.7V516.2M373.5 532.0V544.5M390.5 533.3V546.8M392.5 517.9V532.8M401.5 532.7V544.9M413.5 517.3V542.3M417.5 518.1V544.7M429.5 492.8V516.1M430.5 496.6V524.3M435.5 511.5V535.6M436.5 495.8V529.1M440.5 532.6V543.4M447.5 512.4V535.8M448.5 502.6V534.2M450.5 487.4V517.4M461.5 519.5V529.9M462.5 532.6V544.2M464.5 488.4V517.4" stroke="#000" stroke-opacity="0.064" stroke-width="1" fill="none"/>
<path d="M117.5 487.1V545.1M132.5 496.7V547.6M133.5 487.1V537.5M139.5 494.2V550.2M140.5 494.2V550.2M145.5 514.6V532.4M148.5 487.1V542.6M152.5 494.2V545.1M153.5 494.2V537.5M155.5 501.8V532.4M156.5 496.7V542.6M162.5 496.7V537.5M178.5 494.2V532.4M186.5 494.2V532.4M187.5 494.2V532.4M190.5 486.6V547.6M191.5 514.6V532.4M196.5 487.1V532.4M199.5 487.1V550.2M208.5 486.6V532.4M219.5 494.2V532.4M222.5 514.6V547.6M226.5 487.1V550.2M229.5 494.2V537.5M232.5 486.6V537.5M235.5 501.8V537.5M236.5 501.8V547.6M245.5 486.6V545.1M247.5 486.6V550.2M251.5 494.2V551.5M257.5 494.2V550.2M261.5 487.1V551.5M263.5 494.2V547.6M274.5 501.8V547.6M277.5 494.2V551.5M282.5 494.2V547.6M290.5 494.2V545.1M291.5 514.6V545.1M297.5 486.6V551.5M302.5 501.8V550.2M321.5 506.9V545.1M345.5 486.6V545.1M347.5 494.2V537.5M356.5 501.8V545.1M357.5 514.6V547.6M363.5 501.8V551.5M364.5 494.2V547.6M366.5 486.6V547.6M371.5 494.2V547.6M376.5 532.4V542.6M380.5 517.1V532.4M398.5 522.2V551.5M415.5 494.2V547.6M418.5 514.6V547.6M419.5 506.9V550.2M420.5 486.6V532.4M423.5 486.6V545.1M427.5 486.6V537.5M438.5 487.1V532.4M439.5 514.6V550.2M440.5 506.9V532.4M444.5 506.9V550.2M452.5 496.7V542.6" stroke="#000" stroke-opacity="0.128" stroke-width="1" fill="none"/>
<path d="M118.5 428.0V494.2M123.5 428.0V494.2M152.5 428.0V494.2M160.5 428.0V494.2M172.5 428.0V494.2M237.5 428.0V494.2M252.5 428.0V494.2M288.5 428.0V494.2M435.5 428.0V494.2M438.5 428.0V494.2M454.5 428.0V494.2" stroke="#000" stroke-opacity="0.048" stroke-width="1" fill="none"/>
<path d="M119.5 494.2V547.6M122.5 487.1V547.6M123.5 506.9V537.5M136.5 514.6V547.6M147.5 486.6V550.2M171.5 487.1V545.1M179.5 496.7V537.5M181.5 496.7V542.6M184.5 494.2V550.2M193.5 486.6V537.5M197.5 506.9V551.5M205.5 506.9V545.1M206.5 494.2V550.2M210.5 486.6V547.6M215.5 486.6V550.2M230.5 494.2V545.1M237.5 494.2V551.5M242.5 486.6V550.2M248.5 494.2V537.5M253.5 496.7V542.6M259.5 506.9V537.5M269.5 494.2V542.6M272.5 487.1V547.6M275.5 501.8V532.4M279.5 501.8V551.5M284.5 506.9V551.5M286.5 494.2V547.6M287.5 506.9V537.5M300.5 496.7V545.1M301.5 494.2V545.1M303.5 527.3V547.6M307.5 494.2V542.6M308.5 487.1V532.4M320.5 486.6V551.5M323.5 496.7V537.5M326.5 494.2V550.2M327.5 496.7V551.5M337.5 487.1V545.1M344.5 494.2V550.2M346.5 494.2V537.5M348.5 496.7V542.6M355.5 496.7V547.6M365.5 506.9V547.6M369.5 514.6V551.5M377.5 527.3V550.2M378.5 514.6V550.2M379.5 494.2V537.5M381.5 537.5V545.1M383.5 487.1V537.5M384.5 527.3V551.5M396.5 517.1V537.5M402.5 522.2V537.5M408.5 532.4V547.6M409.5 517.1V542.6M411.5 494.2V551.5M417.5 501.8V551.5M429.5 496.7V550.2M434.5 506.9V550.2M443.5 487.1V537.5M445.5 487.1V542.6M449.5 487.1V532.4M458.5 501.8V547.6M463.5 514.6V547.6" stroke="#000" stroke-opacity="0.192" stroke-width="1" fill="none"/>
<path d="M167.5 428.0V494.2M173.5 428.0V494.2M192.5 428.0V494.2M263.5 428.0V494.2M290.5 428.0V494.2M325.5 428.0V494.2M329.5 428.0V494.2M358.5 428.0V494.2M428.5 428.0V494.2M432.5 428.0V494.2" stroke="#000" stroke-opacity="0.112" stroke-width="1" fill="none"/>
<path d="M109.5 428.0V519.6M117.5 428.0V519.6M123.5 428.0V519.6M124.5 428.0V519.6M132.5 428.0V519.6M138.5 428.0V519.6M139.5 428.0V519.6M145.5 428.0V519.6M154.5 428.0V519.6M164.5 428.0V519.6M166.5 428.0V519.6M169.5 428.0V519.6M172.5 428.0V519.6M177.5 428.0V519.6M179.5 428.0V519.6M188.5 428.0V519.6M203.5 428.0V519.6M204.5 428.0V519.6M206.5 428.0V519.6M210.5 428.0V519.6M217.5 428.0V519.6M225.5 428.0V519.6M232.5 428.0V519.6M236.5 428.0V519.6M239.5 428.0V519.6M248.5 428.0V519.6M252.5 428.0V519.6M256.5 428.0V519.6M260.5 428.0V519.6M266.5 428.0V519.6M272.5 428.0V519.6M287.5 428.0V519.6M291.5 428.0V519.6M303.5 428.0V519.6M334.5 428.0V519.6M338.5 428.0V519.6M340.5 428.0V519.6M347.5 428.0V519.6M349.5 428.0V519.6M352.5 428.0V519.6M355.5 428.0V519.6M361.5 428.0V519.6M397.5 428.0V519.6M431.5 428.0V519.6M445.5 428.0V519.6M448.5 428.0V519.6M452.5 428.0V519.6M455.5 428.0V519.6M123.5 428.0V519.6M138.5 428.0V519.6" stroke="#000" stroke-opacity="0.240" stroke-width="1" fill="none"/>
<path d="M276.5 428.0V506.9M277.5 428.0V506.9M278.5 428.0V506.9M279.5 428.0V506.9M282.5 428.0V506.9M320.5 428.0V506.9M322.5 428.0V506.9M368.5 428.0V506.9" stroke="#000" stroke-opacity="0.272" stroke-width="1" fill="none"/>
<path d="M280.5 428.0V506.9M281.5 428.0V506.9M319.5 428.0V506.9M321.5 428.0V506.9M367.5 428.0V506.9M369.5 428.0V506.9M370.5 428.0V506.9M371.5 428.0V506.9" stroke="#000" stroke-opacity="0.208" stroke-width="1" fill="none"/>
<polyline points="107.9,539.5 109.0,514.1 109.9,548.4 111.0,501.5 112.2,547.2 113.1,509.2 114.5,538.3 115.3,532.5 116.5,547.6 117.3,518.8 118.7,544.3 119.5,532.0 120.4,542.7 121.2,531.5 122.3,543.8 123.9,503.2 125.3,540.3 126.3,525.9 127.9,538.6 129.3,530.2 130.1,544.5 131.3,524.7 132.6,548.7 133.5,508.9 134.1,545.6 135.3,497.9 136.1,538.6 137.3,510.6 138.6,537.7 139.7,510.9 140.8,540.4 141.9,531.3 142.6,541.4 144.1,504.4 145.7,540.0 146.6,516.6 147.4,543.2 148.7,516.0 149.4,545.1 150.0,506.3 151.2,547.5 152.3,516.3 153.2,543.9 154.2,525.1 155.0,542.5 156.3,508.8 157.0,546.2 158.3,528.2 159.5,544.0 160.3,511.4 161.2,546.5 162.1,523.7 162.8,544.7 163.4,529.9 164.3,549.1 165.4,501.7 166.8,540.8 168.3,511.7 169.8,540.6 170.8,503.7 172.1,539.3 173.7,505.2 174.4,548.8 175.2,513.0 176.4,542.6 177.1,522.2 178.1,544.2 179.1,500.4 179.9,546.1 181.2,509.4 182.5,548.3 183.5,509.9 184.5,550.1 185.2,517.1 186.3,542.8 187.5,514.3 188.6,538.0 189.4,510.1 190.6,544.4 191.9,518.1 193.2,539.2 194.3,512.6 195.5,545.9 196.5,500.1 197.2,550.6 198.7,500.3 199.4,546.9 200.8,514.4 201.8,538.0 202.4,505.3 203.8,544.0 205.3,501.5 206.9,541.5 207.7,514.8 208.8,538.4 210.0,500.8 211.2,547.7 212.2,531.8 213.0,549.2 214.4,532.7 215.7,542.5 216.6,527.9 217.6,544.8 218.9,527.8 220.3,538.2 221.1,520.5 222.2,549.5 223.7,533.2 224.7,549.5 225.4,497.9 227.0,549.9 227.9,521.8 229.0,549.4 230.5,522.4 232.0,547.7 233.0,500.4 233.7,542.9 234.6,531.6 235.7,540.0 236.3,523.6 237.8,540.0 238.8,532.0 240.3,545.2 241.3,519.5 242.5,544.9 243.6,505.3 244.5,547.1 245.4,499.6 246.5,545.8 247.6,533.2 248.7,540.2 249.4,511.2 250.0,540.7 250.8,525.8 252.2,542.8 253.5,533.8 254.1,543.6 254.9,518.9 255.9,539.7 257.2,531.2 258.1,547.1 259.1,497.9 260.4,540.3 261.2,523.4 262.7,538.8 264.2,515.2 265.8,538.5 267.2,503.4 268.3,543.3 269.8,512.0 270.6,550.6 271.7,500.7 272.6,538.8 274.0,530.6 275.2,539.9 276.2,522.4 277.7,545.7 279.0,505.3 280.6,545.3 281.6,499.4 282.8,541.4 283.5,518.0 284.4,548.4 285.5,520.4 286.6,540.0 287.3,513.8 288.4,548.3 289.4,515.3 290.5,548.9 291.4,534.2 292.8,539.4 293.9,507.9 294.7,538.6 295.8,508.1 297.0,546.8 298.3,530.0 299.8,537.6 301.4,498.9 302.6,549.4 303.4,531.8 304.8,543.4 305.9,524.3 307.4,543.0 308.1,521.5 309.6,540.6 311.2,511.9 312.5,540.9 313.2,525.1 314.8,548.4 316.1,530.5 316.7,541.4 317.8,509.9 318.7,541.7 320.2,499.2 321.5,549.9 322.5,515.4 323.9,550.1 325.0,508.7 326.5,548.1 327.4,518.3 328.1,537.7 329.4,520.5 330.8,545.3 332.3,529.2 333.3,539.8 334.7,529.0 336.2,538.5 337.7,529.7 339.2,539.8 340.4,529.8 341.8,541.8 343.1,528.3 344.1,548.4 344.7,510.5 345.7,537.6 347.1,513.9 347.8,544.5 348.9,532.1 350.4,539.8 351.5,505.3 352.7,542.7 353.4,503.0 354.4,549.9 355.6,522.6 356.7,544.3 357.5,533.6 358.7,547.9 360.2,510.7 361.5,543.4 363.1,532.6 364.2,546.5 364.9,501.5 366.1,540.9 367.4,531.4 368.5,546.0 369.2,511.2 370.4,543.1 371.3,522.5 372.5,545.2 373.8,522.0 375.2,542.6 376.5,527.6 377.5,538.9 379.1,519.1 380.5,537.5 381.2,528.6 382.2,546.1 383.0,533.0 384.5,543.6 385.7,518.1 386.4,544.9 387.5,527.1 388.4,537.9 389.0,526.0 390.4,541.0 391.1,533.0 391.8,544.7 392.9,517.7 394.4,543.3 395.3,519.7 396.6,538.8 397.5,522.7 398.9,544.3 400.0,520.9 400.9,541.1 402.1,518.1 402.8,539.5 404.2,520.0 405.6,544.1 406.7,529.4 407.9,550.6 409.0,514.6 409.9,548.4 410.9,520.3 412.4,549.0 413.5,503.1 414.9,541.6 415.8,531.7 416.8,548.0 418.4,531.1 419.0,537.6 420.4,516.3 421.5,538.7 422.8,522.2 423.8,537.5 424.7,531.7 425.3,539.5 426.0,512.7 427.1,543.4 428.5,523.2 429.3,545.0 430.4,521.3 431.6,543.9 432.4,530.1 433.4,539.4 434.8,527.2 435.7,544.0 436.8,530.8 437.6,544.2 439.0,502.5 439.8,548.4 441.1,534.8 442.6,539.2 444.1,533.2 445.6,547.5 447.1,526.3 448.0,546.7 448.8,531.1 450.1,544.9 450.8,512.9 452.3,547.2 453.4,520.6 454.2,544.8 455.0,516.4 456.6,549.0 458.0,526.4 459.6,544.0 460.5,502.1 461.7,550.0 462.9,517.3 464.2,537.7 465.1,532.5" fill="none" stroke="#000" stroke-opacity="0.16" stroke-width="0.6" shape-rendering="auto"/>
</g>
<line x1="90.5" y1="519.5" x2="482.5" y2="519.5" stroke="#111" stroke-width="1.15" stroke-dasharray="4 3.5"/>
<line x1="90.2" y1="431.6" x2="90.2" y2="579.8" stroke="#111" stroke-width="1.3"/>
<line x1="89.6" y1="579.2" x2="482.5" y2="579.2" stroke="#000" stroke-width="1.2"/>
<line x1="87.1" y1="443.30" x2="90.2" y2="443.30" stroke="#000" stroke-width="1"/>
<text x="84.0" y="446.2" font-size="8.0" text-anchor="end" fill="#000">3</text>
<line x1="87.1" y1="468.75" x2="90.2" y2="468.75" stroke="#000" stroke-width="1"/>
<text x="84.0" y="471.65" font-size="8.0" text-anchor="end" fill="#000">2</text>
<line x1="87.1" y1="494.20" x2="90.2" y2="494.20" stroke="#000" stroke-width="1"/>
<text x="84.0" y="497.1" font-size="8.0" text-anchor="end" fill="#000">1</text>
<line x1="87.1" y1="519.65" x2="90.2" y2="519.65" stroke="#000" stroke-width="1"/>
<text x="84.0" y="522.55" font-size="8.0" text-anchor="end" fill="#000">0</text>
<line x1="87.1" y1="545.10" x2="90.2" y2="545.10" stroke="#000" stroke-width="1"/>
<text x="84.0" y="548.0" font-size="8.0" text-anchor="end" fill="#000">-1</text>
<text x="70.9" y="505.9" font-size="9.9" text-anchor="middle" fill="#000" textLength="64.6" lengthAdjust="spacingAndGlyphs" transform="rotate(-90 70.9 505.9)">Conservation score</text>
<polygon points="118.90,530.60 121.80,533.50 118.90,536.40 116.00,533.50" fill="#b05ae8" fill-opacity="1" stroke="#111" stroke-width="0.8"/>
<polygon points="123.50,538.40 129.50,538.40 126.50,543.40" fill="#b05ae8" fill-opacity="1" stroke="#111" stroke-width="0.8" stroke-linejoin="miter"/>
<polygon points="158.10,540.10 161.00,543.00 158.10,545.90 155.20,543.00" fill="#b05ae8" fill-opacity="1" stroke="#111" stroke-width="0.8"/>
<polygon points="191.30,539.10 194.20,542.00 191.30,544.90 188.40,542.00" fill="#b05ae8" fill-opacity="1" stroke="#111" stroke-width="0.8"/>
<polygon points="196.30,520.90 199.20,523.80 196.30,526.70 193.40,523.80" fill="#b05ae8" fill-opacity="1" stroke="#111" stroke-width="0.8"/>
<polygon points="215.15,539.00 221.15,539.00 218.15,544.00" fill="#b05ae8" fill-opacity="1" stroke="#111" stroke-width="0.8" stroke-linejoin="miter"/>
<polygon points="214.20,542.10 220.20,542.10 217.20,547.10" fill="#b05ae8" fill-opacity="1" stroke="#111" stroke-width="0.8" stroke-linejoin="miter"/>
<polygon points="237.00,537.80 243.00,537.80 240.00,542.80" fill="#b05ae8" fill-opacity="1" stroke="#111" stroke-width="0.8" stroke-linejoin="miter"/>
<polygon points="262.50,507.80 265.40,510.70 262.50,513.60 259.60,510.70" fill="#b05ae8" fill-opacity="1" stroke="#111" stroke-width="0.8"/>
<polygon points="361.40,546.60 367.40,546.60 364.40,551.60" fill="#b05ae8" fill-opacity="1" stroke="#111" stroke-width="0.8" stroke-linejoin="miter"/>
<polygon points="377.25,538.70 380.15,541.60 377.25,544.50 374.35,541.60" fill="#b05ae8" fill-opacity="1" stroke="#111" stroke-width="0.8"/>
<polygon points="372.60,542.60 378.60,542.60 375.60,547.60" fill="#b05ae8" fill-opacity="1" stroke="#111" stroke-width="0.8" stroke-linejoin="miter"/>
<polygon points="380.00,540.85 382.90,543.75 380.00,546.65 377.10,543.75" fill="#b05ae8" fill-opacity="1" stroke="#111" stroke-width="0.8"/>
<polygon points="379.75,546.60 385.75,546.60 382.75,551.60" fill="#b05ae8" fill-opacity="1" stroke="#111" stroke-width="0.8" stroke-linejoin="miter"/>
<polygon points="383.25,544.70 389.25,544.70 386.25,549.70" fill="#b05ae8" fill-opacity="1" stroke="#111" stroke-width="0.8" stroke-linejoin="miter"/>
<polygon points="389.40,545.60 392.30,548.50 389.40,551.40 386.50,548.50" fill="#b05ae8" fill-opacity="1" stroke="#111" stroke-width="0.8"/>
<polygon points="392.25,540.90 398.25,540.90 395.25,545.90" fill="#b05ae8" fill-opacity="1" stroke="#111" stroke-width="0.8" stroke-linejoin="miter"/>
<polygon points="405.00,538.35 407.90,541.25 405.00,544.15 402.10,541.25" fill="#b05ae8" fill-opacity="1" stroke="#111" stroke-width="0.8"/>
<polygon points="401.00,545.60 403.90,548.50 401.00,551.40 398.10,548.50" fill="#b05ae8" fill-opacity="1" stroke="#111" stroke-width="0.8"/>
<polygon points="402.00,544.70 408.00,544.70 405.00,549.70" fill="#b05ae8" fill-opacity="1" stroke="#111" stroke-width="0.8" stroke-linejoin="miter"/>
<polygon points="405.50,546.30 411.50,546.30 408.50,551.30" fill="#b05ae8" fill-opacity="1" stroke="#111" stroke-width="0.8" stroke-linejoin="miter"/>
<polygon points="411.90,542.35 414.80,545.25 411.90,548.15 409.00,545.25" fill="#b05ae8" fill-opacity="1" stroke="#111" stroke-width="0.8"/>
<polygon points="429.30,543.10 435.30,543.10 432.30,548.10" fill="#b05ae8" fill-opacity="1" stroke="#111" stroke-width="0.8" stroke-linejoin="miter"/>
<polygon points="447.90,513.60 453.90,513.60 450.90,518.60" fill="#b05ae8" fill-opacity="1" stroke="#111" stroke-width="0.8" stroke-linejoin="miter"/>
<line x1="107.3" y1="570.6" x2="465" y2="570.6" stroke="#000" stroke-width="1.4"/>
<line x1="107.3" y1="568" x2="107.3" y2="573.2" stroke="#000" stroke-width="1.6"/>
<line x1="465" y1="567.6" x2="465" y2="573.2" stroke="#000" stroke-width="1.6"/>
<rect x="148.35" y="560.7" width="24.29" height="18.5" fill="#000"/>
<rect x="182.51" y="560.7" width="19.49" height="18.5" fill="#000"/>
<rect x="355.93" y="560.7" width="16.76" height="18.5" fill="#000"/>
<rect x="372.69" y="560.7" width="39.10" height="18.5" fill="#000"/>
<rect x="427.11" y="560.7" width="33.64" height="18.5" fill="#000"/>
<line x1="372.69" y1="560.7" x2="372.69" y2="579" stroke="#fff" stroke-width="0.5"/>
<text x="160.49" y="573.3" font-size="8.6" text-anchor="middle" fill="#fff" textLength="16.5" lengthAdjust="spacingAndGlyphs">ARM</text>
<text x="192.25" y="568.4" font-size="7.6" text-anchor="middle" fill="#fff" textLength="17" lengthAdjust="spacingAndGlyphs">ConA</text>
<text x="192.25" y="576.8" font-size="7.6" text-anchor="middle" fill="#fff" textLength="12" lengthAdjust="spacingAndGlyphs">like</text>
<text x="364.31" y="573.3" font-size="8.5" text-anchor="middle" fill="#fff" textLength="9.5" lengthAdjust="spacingAndGlyphs">PH</text>
<text x="392.24" y="573.3" font-size="8.5" text-anchor="middle" fill="#fff" textLength="25.5" lengthAdjust="spacingAndGlyphs">BEACH</text>
<text x="443.94" y="573.3" font-size="8.5" text-anchor="middle" fill="#fff" textLength="21" lengthAdjust="spacingAndGlyphs">WD40</text>
<line x1="107.30" y1="579.2" x2="107.30" y2="582" stroke="#000" stroke-width="0.9"/>
<text x="112.8" y="589.3" font-size="8.0" text-anchor="end" fill="#000" transform="rotate(-45 112.8 589.3)">1</text>
<line x1="148.35" y1="579.2" x2="148.35" y2="582" stroke="#000" stroke-width="0.9"/>
<text x="153.85" y="589.3" font-size="8.0" text-anchor="end" fill="#000" transform="rotate(-45 153.85 589.3)">317</text>
<line x1="172.64" y1="579.2" x2="172.64" y2="582" stroke="#000" stroke-width="0.9"/>
<text x="178.14" y="589.3" font-size="8.0" text-anchor="end" fill="#000" transform="rotate(-45 178.14 589.3)">504</text>
<line x1="182.51" y1="579.2" x2="182.51" y2="582" stroke="#000" stroke-width="0.9"/>
<text x="188.01" y="589.3" font-size="8.0" text-anchor="end" fill="#000" transform="rotate(-45 188.01 589.3)">580</text>
<line x1="202.00" y1="579.2" x2="202.00" y2="582" stroke="#000" stroke-width="0.9"/>
<text x="207.5" y="589.3" font-size="8.0" text-anchor="end" fill="#000" transform="rotate(-45 207.5 589.3)">730</text>
<line x1="355.93" y1="579.2" x2="355.93" y2="582" stroke="#000" stroke-width="0.9"/>
<text x="361.43" y="589.3" font-size="8.0" text-anchor="end" fill="#000" transform="rotate(-45 361.43 589.3)">1915</text>
<line x1="372.69" y1="579.2" x2="372.69" y2="582" stroke="#000" stroke-width="0.9"/>
<text x="378.19" y="589.3" font-size="8.0" text-anchor="end" fill="#000" transform="rotate(-45 378.19 589.3)">2044</text>
<line x1="411.79" y1="579.2" x2="411.79" y2="582" stroke="#000" stroke-width="0.9"/>
<text x="417.29" y="589.3" font-size="8.0" text-anchor="end" fill="#000" transform="rotate(-45 417.29 589.3)">2345</text>
<line x1="427.11" y1="579.2" x2="427.11" y2="582" stroke="#000" stroke-width="0.9"/>
<text x="432.61" y="589.3" font-size="8.0" text-anchor="end" fill="#000" transform="rotate(-45 432.61 589.3)">2463</text>
<line x1="460.76" y1="579.2" x2="460.76" y2="582" stroke="#000" stroke-width="0.9"/>
<text x="466.26" y="589.3" font-size="8.0" text-anchor="end" fill="#000" transform="rotate(-45 466.26 589.3)">2722</text>
<text x="238.3" y="611.9" font-size="9.6" text-anchor="start" font-style="italic" fill="#000" textLength="25.8" lengthAdjust="spacingAndGlyphs">NBEAL2</text>
<text x="266.3" y="611.9" font-size="9.6" text-anchor="start" fill="#000" textLength="68" lengthAdjust="spacingAndGlyphs">amino acid position</text>
<rect x="0.5" y="0.5" width="519" height="621" fill="none" stroke="#000" stroke-width="1"/>
<rect x="1" y="1" width="1" height="620" fill="#000" fill-opacity="0.1"/>
<rect x="2" y="1" width="516" height="1" fill="#000" fill-opacity="0.12"/>
<rect x="518" y="1" width="1" height="620" fill="#000" fill-opacity="0.22"/>
<rect x="2" y="620" width="516" height="1" fill="#000" fill-opacity="0.2"/>
</svg></body></html>
